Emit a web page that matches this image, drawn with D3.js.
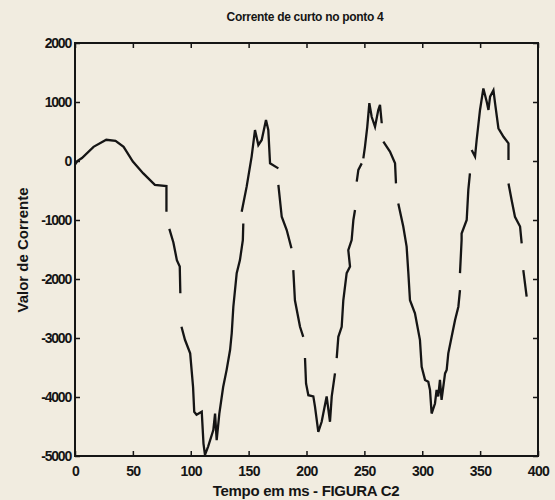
<!DOCTYPE html>
<html>
<head>
<meta charset="utf-8">
<script src="https://cdn.jsdelivr.net/npm/d3@7"></script>
<style>
	body { margin: 0; background: #f1ece0; }
	svg { display: block; }
	text { font-family: "Liberation Sans", Arial, sans-serif; fill: #151515; }
</style>
</head>
<body>
<svg id="chart" width="555" height="500"></svg>
<script>
// valores (null = falha no traço)
var tempo = [
	0, 2, 6, 16, 27, 35, 42, 50, 59, 69, 79, 79, null,
	81.5, 85, 88, 90.5, 91, null,
	92, 95, 99.5, 102, 103, 105, 109.5, 111, 112.3, 115, 119.5, 121, 122.4, 124.7, 128, 131, 134, 135.4, 136.8, 139.7, 142.5, 145, 145.4, null,
	144, 148.3, 152.6, 155.5, 158.4, 161.3, 165, 167, 168.5, 175.7, null,
	175.7, 178.6, 182.9, 187, null,
	188.6, 190, 194.4, 197.2, null,
	198.7, 199.6, 201.6, 205.9, 207.3, 210.2, 213.1, 214.5, 217.4, 220.3, 221.8, 224.6, null,
	226.1, 227.5, 230.4, 231.8, 234.7, 237.6, 236.1, 239, 240.5, 241.9, null,
	243.4, 244.8, 247.7, null,
	249.1, 250.5, 252.5, 254.3, 256.3, 259.2, 262, 263.5, 265, null,
	266.4, 272.1, 276.5, 277.3, null,
	279.3, 283.6, 286.5, 288, 289.4, 293.7, 298, 299.5, 302.4, 305.2, 306.7, 308.1, 311, 312.4, 313.8, 315.3, 316.7, 319.7, 321.1, 322.5, 325.4, 328.3, 331.2, 332.6, null,
	332.6, 334, 334, 338.4, 339.8, 341.2, null,
	342.7, 345.6, 347, 349.9, 352.8, 355.7, 357.2, 358.6, 361.5, 362.9, 365.8, 370.2, 374.5, 374.5, null,
	374.5, 377.2, 380.1, 384.5, 385.9, null,
	387.3, 390.2
];
var corrente = [
	-60, 0, 50, 240, 360, 340, 240, -10, -210, -405, -425, -860, null,
	-1150, -1380, -1680, -1790, -2240, null,
	-2810, -3030, -3260, -3830, -4250, -4300, -4250, -4790, -4980, -4840, -4560, -4280, -4730, -4280, -3830, -3540, -3200, -2920, -2470, -1900, -1680, -1340, -1060, null,
	-860, -435, 75, 525, 270, 356, 695, 525, -40, -125, null,
	-405, -945, -1170, -1480, null,
	-1850, -2360, -2810, -2980, null,
	-3340, -3770, -3970, -3990, -4160, -4590, -4420, -4280, -3990, -4420, -3990, -3600, null,
	-3340, -2980, -2810, -2360, -1900, -1790, -1510, -1340, -1000, -830, null,
	-350, -150, -40, null,
	45, 240, 580, 980, 750, 580, 865, 950, 640, null,
	330, 160, -40, -380, null,
	-720, -1110, -1450, -1900, -2360, -2580, -3030, -3490, -3710, -3740, -3880, -4280, -4110, -3880, -3990, -3710, -4050, -3600, -3540, -3260, -2980, -2700, -2470, -2190, null,
	-1900, -1340, -1230, -1000, -490, -210, null,
	185, 75, 356, 865, 1230, 1005, 865, 1090, 1200, 980, 555, 410, 300, 15, null,
	-380, -660, -945, -1110, -1395, null,
	-1850, -2300
];
var xTicks = [0, 50, 100, 150, 200, 250, 300, 350, 400];
var yTicks = [2000, 1000, 0, -1000, -2000, -3000, -4000, -5000];
var xTickLabels = ["0", "50", "100", "150", "200", "250", "300", "350", "400"];
var yTickLabels = ["2000", "1000", "0", "-1000", "-2000", "-3000", "-4000", "-5000"];

var svg = d3.select("#chart");
var mLeft = 75, mRight = 538, mTop = 43, mBottom = 456;

var x = d3.scaleLinear().domain([0, 400]).range([mLeft, mRight]);
var y = d3.scaleLinear().domain([-5000, 2000]).range([mBottom, mTop]);

var pontos = tempo.map(function(t, i) { return {t: t, v: corrente[i]}; });

// eixos com ticks para dentro, como no matlab
svg.append("g")
	.attr("transform", "translate(0," + mBottom + ")")
	.call(d3.axisBottom(x).tickValues(xTicks).tickSizeInner(-5).tickSizeOuter(0)
		.tickFormat(function(d, i) { return xTickLabels[i]; }))
	.call(function(g) {
		g.select(".domain").remove();
		g.selectAll("line").attr("stroke", "#151515").attr("stroke-width", 1.5);
		g.selectAll("text").attr("y", 10).attr("font-size", "14px").attr("font-weight", "bold")
			.attr("letter-spacing", "-0.6px");
	});

svg.append("g")
	.attr("transform", "translate(0," + mTop + ")")
	.call(d3.axisTop(x).tickValues(xTicks).tickSizeInner(-5).tickSizeOuter(0).tickFormat(""))
	.call(function(g) {
		g.select(".domain").remove();
		g.selectAll("line").attr("stroke", "#151515").attr("stroke-width", 1.5);
	});

svg.append("g")
	.attr("transform", "translate(" + mLeft + ",0)")
	.call(d3.axisLeft(y).tickValues(yTicks).tickSizeInner(-5).tickSizeOuter(0)
		.tickFormat(function(d, i) { return yTickLabels[i]; }))
	.call(function(g) {
		g.select(".domain").remove();
		g.selectAll("line").attr("stroke", "#151515").attr("stroke-width", 1.5);
		g.selectAll("text").attr("x", -4).attr("font-size", "14px").attr("font-weight", "bold")
			.attr("letter-spacing", "-1.2px");
	});

svg.append("g")
	.attr("transform", "translate(" + mRight + ",0)")
	.call(d3.axisRight(y).tickValues(yTicks).tickSizeInner(-5).tickSizeOuter(0).tickFormat(""))
	.call(function(g) {
		g.select(".domain").remove();
		g.selectAll("line").attr("stroke", "#151515").attr("stroke-width", 1.5);
	});

svg.append("rect")
	.attr("x", mLeft).attr("y", mTop)
	.attr("width", mRight - mLeft).attr("height", mBottom - mTop)
	.attr("fill", "none")
	.attr("stroke", "#151515")
	.attr("stroke-width", 2);

var line = d3.line()
	.defined(function(d) { return d.t !== null && d.v !== null; })
	.x(function(d) { return x(d.t); })
	.y(function(d) { return y(d.v); });

svg.append("path")
	.datum(pontos)
	.attr("d", line)
	.attr("fill", "none")
	.attr("stroke", "#151515")
	.attr("stroke-width", 2.3)
	.attr("stroke-linejoin", "miter");

svg.append("text")
	.attr("x", 305).attr("y", 21)
	.attr("text-anchor", "middle")
	.attr("font-size", "12px")
	.attr("font-weight", "bold")
	.attr("letter-spacing", "-0.3px")
	.text("Corrente de curto no ponto 4");

svg.append("text")
	.attr("x", 306).attr("y", 496)
	.attr("text-anchor", "middle")
	.attr("font-size", "15px")
	.attr("font-weight", "bold")
	.attr("letter-spacing", "-0.3px")
	.text("Tempo em ms - FIGURA C2");

svg.append("text")
	.attr("transform", "translate(28," + 250 + ") rotate(-90)")
	.attr("text-anchor", "middle")
	.attr("font-size", "15px")
	.attr("font-weight", "bold")
	.text("Valor de Corrente");
</script>
</body>
</html>
